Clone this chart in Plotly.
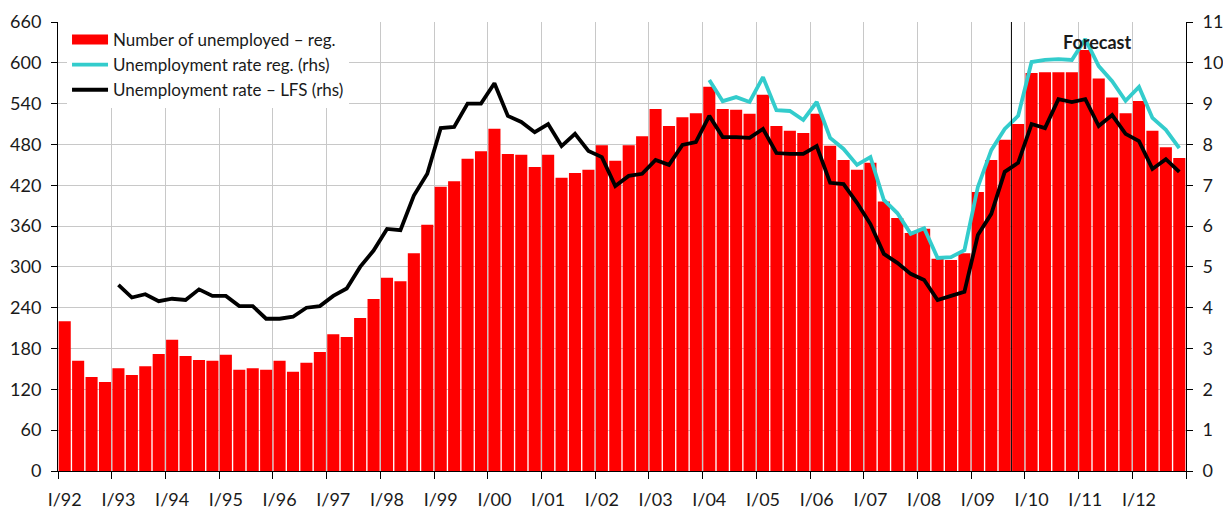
import plotly.graph_objects as go

years = list(range(1992, 2013))
quarters = ["I", "II", "III", "IV"]
categories = [f"{q}/{str(y)[2:]}" for y in years for q in quarters]

unemployed_reg = [220, 162, 138, 131, 151, 141, 154, 172, 193, 169, 163, 162,
                  171, 149, 151, 149, 162, 146, 159, 175, 201, 197, 225, 253,
                  284, 279, 320, 362, 418, 426, 459, 470, 503, 466, 465, 447,
                  465, 431, 438, 443, 479, 456, 479, 492, 532, 507, 520, 526,
                  565, 532, 531, 525, 553, 507, 500, 497, 525, 478, 457, 443,
                  453, 396, 372, 350, 356, 312, 310, 320, 410, 457, 487, 510,
                  585, 586, 586, 586, 619, 577, 549, 526, 544, 500, 476, 460]

lfs_rate = [None, None, None, None,
            4.56, 4.25, 4.33, 4.16, 4.22, 4.19, 4.45, 4.29,
            4.29, 4.04, 4.04, 3.73, 3.73, 3.78, 4.00, 4.04,
            4.29, 4.47, 5.00, 5.40, 5.93, 5.90, 6.75, 7.28,
            8.40, 8.43, 9.00, 9.00, 9.50, 8.70, 8.55, 8.30,
            8.50, 7.96, 8.26, 7.84, 7.69, 6.98, 7.23, 7.28,
            7.62, 7.50, 7.99, 8.06, 8.70, 8.18, 8.18, 8.16,
            8.38, 7.79, 7.77, 7.77, 7.96, 7.06, 7.03, 6.57,
            6.05, 5.32, 5.10, 4.83, 4.68, 4.19, 4.29, 4.39,
            5.78, 6.30, 7.33, 7.55, 8.50, 8.40, 9.11, 9.04,
            9.11, 8.45, 8.72, 8.26, 8.08, 7.40, 7.64, 7.33]

reg_rate = [None] * 48 + [
    9.58, 9.06, 9.16, 9.04, 9.65, 8.84, 8.82, 8.60,
    9.04, 8.16, 7.89, 7.50, 7.69, 6.64, 6.32, 5.81,
    5.95, 5.22, 5.24, 5.41, 6.96, 7.86, 8.38, 8.70,
    10.02, 10.07, 10.09, 10.07, 10.58, 9.92, 9.55, 9.07,
    9.41, 8.65, 8.36, 7.91]

left_ticks = list(range(0, 661, 60))
right_ticks = list(range(0, 12))
forecast_start = "IV/09"
forecast_label = "Forecast"

x = list(range(len(categories)))
label_pos = [i for i, c in enumerate(categories) if c.startswith("I/")]
label_text = [categories[i] for i in label_pos]
fc_idx = categories.index(forecast_start) - 0.5

FONT = "Lato"
TXT = "#1a1a1a"
GRID = "#c8c8c8"
RED = "#ff0000"
FS = 18

fig = go.Figure()
fig.add_trace(go.Bar(x=x, y=unemployed_reg, name="Number of unemployed \u2013 reg.",
                     marker=dict(color=RED, line=dict(width=0)), showlegend=False))
# legend-only entry so the bar swatch is drawn as a wide rectangle like the original
fig.add_trace(go.Scatter(x=[None], y=[None], name="Number of unemployed \u2013 reg.",
                         mode="lines", line=dict(color=RED, width=14)))
fig.add_trace(go.Scatter(x=x, y=reg_rate, name="Unemployment rate reg. (rhs)", yaxis="y2",
                         mode="lines", line=dict(color="#33cccc", width=3.8)))
fig.add_trace(go.Scatter(x=x, y=lfs_rate, name="Unemployment rate \u2013 LFS (rhs)", yaxis="y2",
                         mode="lines", line=dict(color="#000000", width=3.8)))

fig.add_shape(type="line", x0=fc_idx, x1=fc_idx, y0=0, y1=1, xref="x", yref="paper",
              line=dict(color="black", width=1))
fig.add_annotation(x=76.9, y=630, xref="x", yref="y", text="<b>" + forecast_label + "</b>",
                   showarrow=False, font=dict(family=FONT, size=18, color=TXT))

fig.update_layout(
    width=1223, height=514,
    margin=dict(l=58, r=37, t=22, b=43),
    paper_bgcolor="white", plot_bgcolor="white",
    bargap=0.1,
    font=dict(family=FONT, size=FS, color=TXT),
    showlegend=True,
    legend=dict(x=0.008, y=1.0, xanchor="left", yanchor="top", bgcolor="white",
                font=dict(family=FONT, size=17, color=TXT), tracegroupgap=0,
                itemwidth=36),
    xaxis=dict(range=[-0.5, len(categories) - 0.5], tickmode="array", tickvals=label_pos,
               ticktext=label_text, ticks="", showgrid=False, showline=True,
               linecolor="black", linewidth=1, zeroline=False, ticklabelstandoff=12,
               automargin=False, tickfont=dict(family=FONT, size=FS, color=TXT),
               minor=dict(tick0=-0.5, dtick=4, ticks="outside", ticklen=7,
                          tickcolor="black", showgrid=True, gridcolor=GRID, gridwidth=1)),
    yaxis=dict(range=[0, 660], tickmode="array", tickvals=left_ticks, showgrid=True,
               gridcolor=GRID, gridwidth=1, showline=True, linecolor="black", linewidth=1,
               ticks="outside", ticklen=6, tickcolor="black", zeroline=False,
               automargin=False, ticklabelstandoff=6,
               tickfont=dict(family=FONT, size=FS, color=TXT)),
    yaxis2=dict(range=[0, 11], tickmode="array", tickvals=right_ticks, overlaying="y",
                side="right", showgrid=False, showline=True, linecolor="black", linewidth=1,
                ticks="outside", ticklen=6, tickcolor="black", zeroline=False,
                automargin=False, ticklabelstandoff=6,
                tickfont=dict(family=FONT, size=FS, color=TXT)),
)

# remove the default page margin so the figure fills the window exactly
fig.write_html("out.html", config={"displayModeBar": False},
               post_script="document.body.style.margin='0';document.body.style.overflow='hidden';")
